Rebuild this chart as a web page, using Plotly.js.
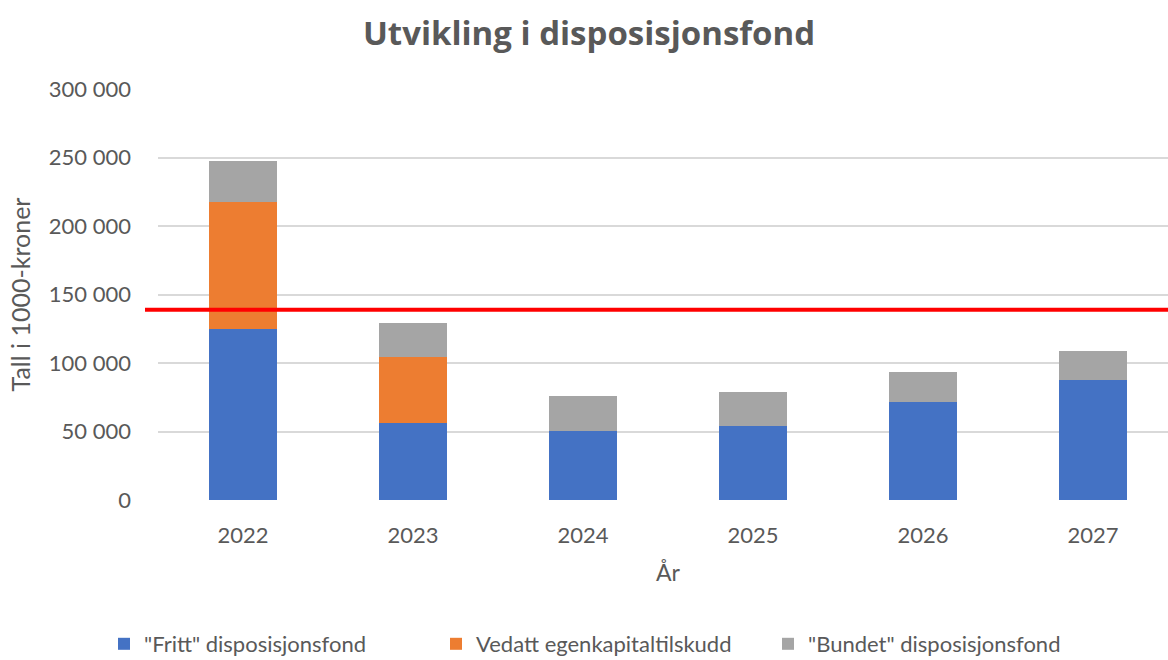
<!DOCTYPE html>
<html>
<head>
<meta charset="utf-8">
<script src="https://cdn.plot.ly/plotly-3.0.1.min.js"></script>
<style>
html,body{margin:0;padding:0;overflow:hidden;background:#fff;width:1168px;height:660px;}
#chart{width:1178px;height:660px;}
</style>
</head>
<body>
<div id="chart"></div>
<script>
var years = ["2022", "2023", "2024", "2025", "2026", "2027"];
var fritt = [125000, 56500, 50400, 54300, 71300, 87800];
var vedatt = [92800, 47900, 0, 0, 0, 0];
var bundet = [29900, 25000, 25300, 24300, 22200, 21200];
var seriesNames = ['"Fritt" disposisjonsfond', 'Vedatt egenkapitaltilskudd', '"Bundet" disposisjonsfond'];
var thresholdValue = 138900;
var yTickVals = [0, 50000, 100000, 150000, 200000, 250000, 300000];
var yTickText = ["0", "50 000", "100 000", "150 000", "200 000", "250 000", "300 000"];

var FONT = 'Lato, "Open Sans", sans-serif';
var GREY = '#595959';

var traces = [
  {type: 'bar', x: years, y: fritt, name: seriesNames[0], marker: {color: '#4472C4'}},
  {type: 'bar', x: years, y: vedatt, name: seriesNames[1], marker: {color: '#ED7D31'}},
  {type: 'bar', x: years, y: bundet, name: seriesNames[2], marker: {color: '#A5A5A5'}}
];

var layout = {
  width: 1178, height: 660,
  barmode: 'stack',
  bargap: 0.6,
  paper_bgcolor: '#ffffff',
  plot_bgcolor: '#ffffff',
  margin: {l: 158, r: 0, t: 89, b: 160},
  font: {family: FONT, color: GREY, size: 22},
  title: {
    text: '<b>Utvikling i disposisjonsfond</b>',
    font: {family: '"Open Sans", sans-serif', size: 33, color: GREY},
    x: 589/1178, xref: 'container', xanchor: 'center',
    y: 1 - 33/660, yref: 'container', yanchor: 'middle'
  },
  xaxis: {
    type: 'category',
    showgrid: false, zeroline: false, showline: false,
    ticks: '',
    ticklabelstandoff: 20,
    tickfont: {size: 22, color: GREY, family: FONT},
    title: {text: 'År', font: {size: 23, color: GREY, family: FONT}, standoff: 17},
    fixedrange: true
  },
  yaxis: {
    range: [0, 300000],
    tickvals: yTickVals, ticktext: yTickText,
    showgrid: true, gridcolor: '#D9D9D9', gridwidth: 2,
    zeroline: false, showline: false,
    ticks: '',
    ticklabelstandoff: 26,
    tickfont: {size: 22, color: GREY, family: FONT},
    title: {text: 'Tall i 1000-kroner', font: {size: 25, color: GREY, family: FONT}, standoff: 11},
    fixedrange: true
  },
  legend: {
    orientation: 'h',
    xref: 'container', x: 104/1178, xanchor: 'left',
    yref: 'container', y: 16/660, yanchor: 'middle',
    font: {size: 22, color: GREY, family: FONT},
    traceorder: 'normal',
    itemwidth: 30,
    entrywidth: 287, entrywidthmode: 'pixels'
  },
  shapes: [{
    type: 'line', xref: 'paper', yref: 'y',
    x0: -13/1020, x1: 1, y0: thresholdValue, y1: thresholdValue,
    line: {color: '#FF0000', width: 4}
  }],
  showlegend: true
};

Plotly.newPlot('chart', traces, layout, {displayModeBar: false, staticPlot: true});
</script>
</body>
</html>
